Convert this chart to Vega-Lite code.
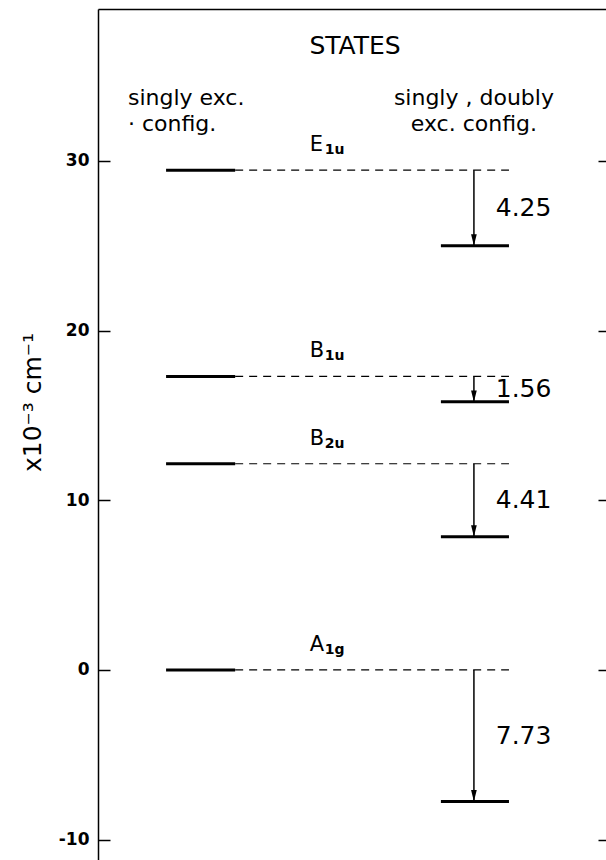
{
  "$schema": "https://vega.github.io/schema/vega-lite/v6.json",
  "width": 508,
  "height": 851,
  "autosize": {"type": "none"},
  "padding": {"left": 98, "top": 9, "right": 0, "bottom": 0},
  "background": "white",
  "config": {"view": {"stroke": null}, "font": "DejaVu Sans", "text": {"color": "black", "font": "DejaVu Sans"}},
  "data": {
    "values": [
      {"state": "E", "sub": "1u", "left": 29.45, "right": 25.0, "diff": "4.25"},
      {"state": "B", "sub": "1u", "left": 17.3, "right": 15.8, "diff": "1.56"},
      {"state": "B", "sub": "2u", "left": 12.15, "right": 7.85, "diff": "4.41"},
      {"state": "A", "sub": "1g", "left": 0, "right": -7.75, "diff": "7.73"}
    ]
  },
  "resolve": {"axis": {"y": "independent"}},
  "layer": [
    {
      "mark": {"type": "rule", "strokeWidth": 3, "color": "black"},
      "encoding": {
        "x": {"datum": 13.4, "type": "quantitative", "scale": {"domain": [0, 100]},
          "axis": {"orient": "top", "domain": true, "ticks": false, "labels": false, "grid": false, "title": null, "domainColor": "black", "domainWidth": 1.5}},
        "x2": {"datum": 27.0},
        "y": {"field": "left", "type": "quantitative", "scale": {"domain": [-11.2, 38.95], "nice": false, "zero": false},
          "axis": {"orient": "left", "values": [-10, 0, 10, 20, 30], "grid": false, "domainColor": "black", "domainWidth": 1.5,
            "tickColor": "black", "tickWidth": 1.5, "tickSize": -12, "labelPadding": 21,
            "labelExpr": "datum.value < 0 ? '-' + abs(datum.value) : datum.label",
            "labelFont": "DejaVu Sans", "labelFontWeight": "bold", "labelFontSize": 17, "labelColor": "black",
            "title": "x10⁻³ cm⁻¹", "titleFont": "DejaVu Sans", "titleFontSize": 25, "titleFontWeight": "normal", "titleColor": "black",
            "titleX": -66, "titleY": 393, "titleAngle": -90, "titleBaseline": "middle", "titleAlign": "center"}}
      }
    },
    {
      "mark": {"type": "rule", "strokeWidth": 3, "color": "black"},
      "encoding": {
        "x": {"datum": 67.5, "type": "quantitative"},
        "x2": {"datum": 80.9},
        "y": {"field": "right", "type": "quantitative",
          "axis": {"orient": "right", "values": [-10, 0, 10, 20, 30], "grid": false, "domain": false, "labels": false,
            "tickColor": "black", "tickWidth": 1.5, "tickSize": -8, "title": null}}
      }
    },
    {
      "mark": {"type": "rule", "strokeWidth": 1.2, "strokeDash": [8, 6], "color": "black"},
      "encoding": {
        "x": {"datum": 27.0, "type": "quantitative"},
        "x2": {"datum": 80.9},
        "y": {"field": "left", "type": "quantitative", "axis": null}
      }
    },
    {
      "mark": {"type": "rule", "strokeWidth": 1.5, "color": "black"},
      "encoding": {
        "x": {"datum": 74.0, "type": "quantitative"},
        "y": {"field": "left", "type": "quantitative", "axis": null},
        "y2": {"field": "right"}
      }
    },
    {
      "mark": {"type": "point", "shape": "M-0.25,-1L0.25,-1L0,0Z", "size": 520, "filled": true, "color": "black", "opacity": 1},
      "encoding": {
        "x": {"datum": 74.0, "type": "quantitative"},
        "y": {"field": "right", "type": "quantitative", "axis": null}
      }
    },
    {
      "mark": {"type": "text", "align": "left", "baseline": "alphabetic", "fontSize": 21, "dy": -19},
      "encoding": {
        "x": {"datum": 41.7, "type": "quantitative"},
        "y": {"field": "left", "type": "quantitative", "axis": null},
        "text": {"field": "state"}
      }
    },
    {
      "mark": {"type": "text", "align": "left", "baseline": "alphabetic", "fontSize": 14, "fontWeight": "bold", "dx": 15, "dy": -16},
      "encoding": {
        "x": {"datum": 41.7, "type": "quantitative"},
        "y": {"field": "left", "type": "quantitative", "axis": null},
        "text": {"field": "sub"}
      }
    },
    {
      "transform": [{"fold": ["left", "right"], "as": ["end", "energy"]}],
      "mark": {"type": "text", "align": "left", "baseline": "middle", "fontSize": 25},
      "encoding": {
        "x": {"datum": 78.3, "type": "quantitative"},
        "y": {"aggregate": "mean", "field": "energy", "type": "quantitative", "axis": null},
        "text": {"field": "diff"}
      }
    },
    {
      "data": {"values": [{"t": "STATES"}]},
      "mark": {"type": "text", "align": "center", "baseline": "alphabetic", "fontSize": 25},
      "encoding": {
        "x": {"datum": 50.6, "type": "quantitative"},
        "y": {"datum": 36.3, "type": "quantitative", "axis": null},
        "text": {"field": "t"}
      }
    },
    {
      "data": {"values": [{"t": ["singly exc.", "· config."]}]},
      "mark": {"type": "text", "align": "left", "baseline": "alphabetic", "fontSize": 22, "lineHeight": 26},
      "encoding": {
        "x": {"datum": 5.9, "type": "quantitative"},
        "y": {"datum": 33.3, "type": "quantitative", "axis": null},
        "text": {"field": "t"}
      }
    },
    {
      "data": {"values": [{"t": ["singly , doubly", "exc. config."]}]},
      "mark": {"type": "text", "align": "center", "baseline": "alphabetic", "fontSize": 22, "lineHeight": 26},
      "encoding": {
        "x": {"datum": 74.0, "type": "quantitative"},
        "y": {"datum": 33.3, "type": "quantitative", "axis": null},
        "text": {"field": "t"}
      }
    }
  ]
}
